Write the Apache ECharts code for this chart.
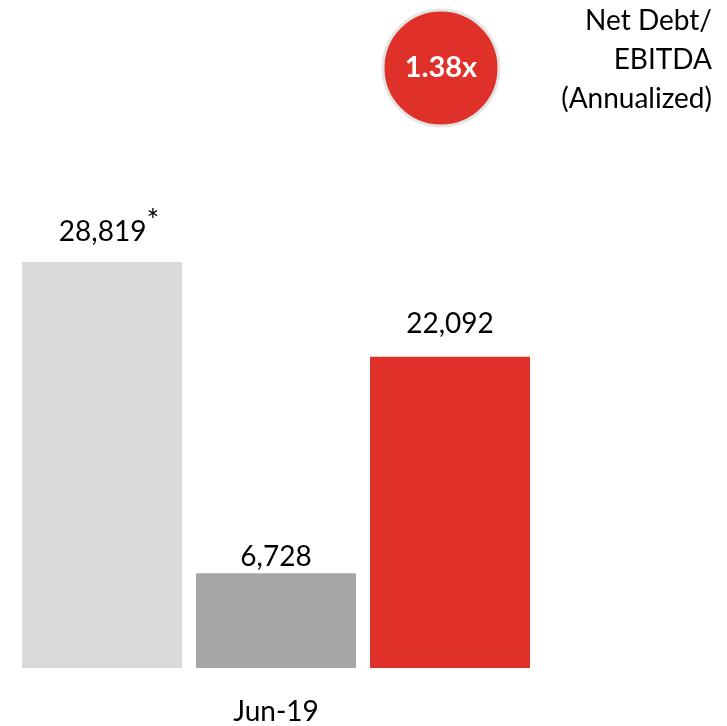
<!DOCTYPE html>
<html>
<head>
<meta charset="utf-8">
<script src="https://cdn.jsdelivr.net/npm/echarts@6/dist/echarts.min.js"></script>
<style>
  html, body { margin: 0; padding: 0; background: #fff; }
  #chart { width: 727px; height: 726px; }
</style>
</head>
<body>
<div id="chart"></div>
<script>
const categories = ['', 'Jun-19', ' ']
const values = [28819, 6728, 22092]
const barColors = ['#d9d9d9', '#a6a6a6', '#e0302a']
const labelNotes = ['*', '', '']
const ratioText = '1.38x'
const ratioCaption = 'Net Debt/\nEBITDA\n(Annualized)'

const FONT = 'Lato, "Open Sans", sans-serif'
const labelGaps = [16, 2, 19]

const chart = echarts.init(document.getElementById('chart'))

const option = {
  animation: false,
  grid: { left: 15, right: 190, top: 175, bottom: 57 },
  xAxis: {
    type: 'category',
    data: categories,
    axisLine: { show: false },
    axisTick: { show: false },
    axisLabel: { margin: 30, fontSize: 28, color: '#000', fontFamily: FONT },
  },
  yAxis: {
    type: 'value',
    min: 0,
    max: 35000,
    show: false,
    splitLine: { show: false },
  },
  series: [
    {
      type: 'bar',
      barWidth: 160,
      data: values.map((v, i) => ({
        value: v,
        itemStyle: { color: barColors[i] },
        label: { distance: labelGaps[i] },
      })),
      label: {
        show: true,
        position: 'top',
        color: '#000',
        fontFamily: FONT,
        fontSize: 28,
        formatter: (p) => {
          const num = p.value.toLocaleString('en-US')
          const note = labelNotes[p.dataIndex]
          return note ? '{vn|' + num + '}{s|' + note + '}' : '{v|' + num + '}'
        },
        rich: {
          v: { fontSize: 28, fontFamily: FONT, color: '#000', lineHeight: 40, verticalAlign: 'bottom' },
          vn: { fontSize: 28, fontFamily: FONT, color: '#000', lineHeight: 40, verticalAlign: 'bottom', padding: [0, 0, 0, 14] },
          s: { fontSize: 30, fontFamily: FONT, color: '#000', lineHeight: 26, verticalAlign: 'top' },
        },
      },
    },
  ],
  graphic: [
    {
      type: 'circle',
      shape: { cx: 441, cy: 68, r: 58 },
      style: { fill: '#e0302a', stroke: '#e4e4e4', lineWidth: 3 },
    },
    {
      type: 'text',
      x: 441,
      y: 68,
      style: {
        text: ratioText,
        fill: '#fff',
        font: 'bold 29px ' + FONT,
        align: 'center',
        verticalAlign: 'middle',
      },
    },
    {
      type: 'text',
      x: 712,
      y: 60,
      style: {
        text: ratioCaption,
        fill: '#000',
        font: '28px ' + FONT,
        lineHeight: 39,
        align: 'right',
        verticalAlign: 'middle',
      },
    },
  ],
}

chart.setOption(option)

window.addEventListener('resize', () => {
  chart.resize()
})
</script>
</body>
</html>
